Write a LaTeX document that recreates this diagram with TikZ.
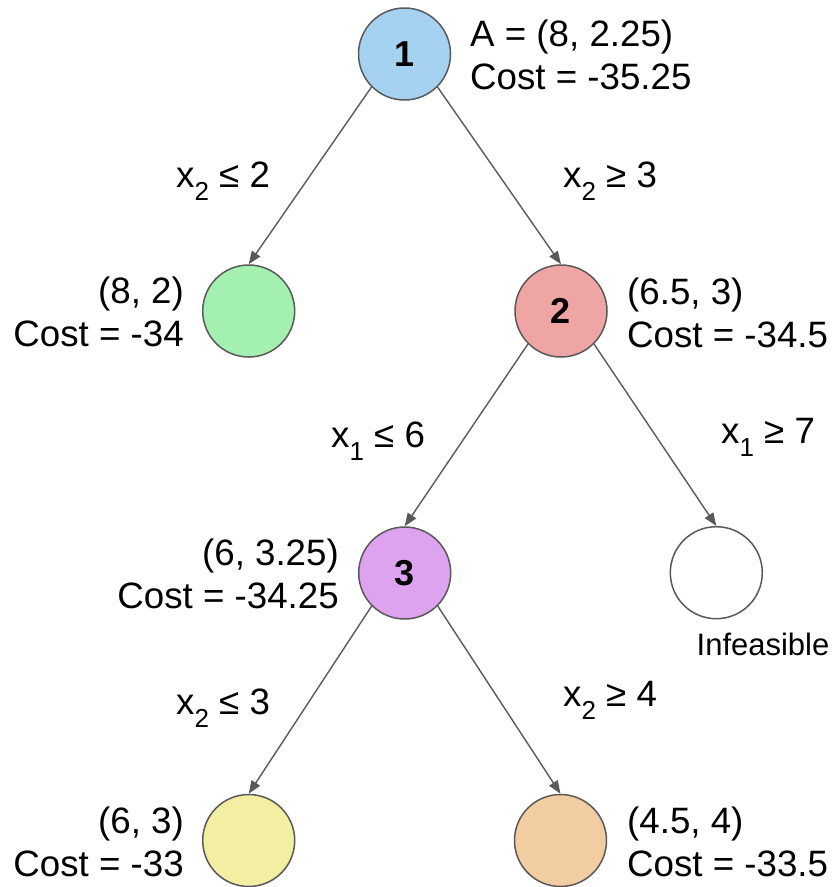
\documentclass[tikz,border=0pt]{standalone}
\usepackage{fontspec}
\setmainfont{Liberation Sans}
\usetikzlibrary{arrows.meta}
\definecolor{cblue}{HTML}{A4D2F0}
\definecolor{cgreen}{HTML}{A4F0B1}
\definecolor{cpink}{HTML}{F0A5A5}
\definecolor{cpurple}{HTML}{DDA3EF}
\definecolor{cyellow}{HTML}{F2EFA2}
\definecolor{corange}{HTML}{F2CDA2}
\definecolor{cborder}{HTML}{595959}
\definecolor{cedge}{HTML}{5A5A5A}
\newcommand\sbs[1]{\raisebox{-0.36em}{\fontsize{26}{26}\selectfont #1}}
\begin{document}
\begin{tikzpicture}[x=1pt,y=-1pt,
  treenode/.style={circle,draw=cborder,line width=1.5pt,minimum size=92pt,inner sep=0pt,font=\fontsize{36}{36}\selectfont\bfseries},
  info/.style={font=\fontsize{36.7}{42.5}\selectfont,inner sep=0pt},
  cond/.style={font=\fontsize{36.7}{42.5}\selectfont,inner sep=0pt,anchor=base west},
  branch/.style={draw=cedge,line width=1.4pt,-{Triangle[length=13pt,width=10pt]}}]
\useasboundingbox (0,0) rectangle (840,887);
\node[treenode,fill=cblue] (n1) at (404.5,54) {1};
\node[treenode,fill=cgreen] (g) at (248.7,311) {};
\node[treenode,fill=cpink] (n2) at (561,311) {2};
\node[treenode,fill=cpurple] (n3) at (404.7,573) {3};
\node[treenode,fill=white] (inf) at (716.3,572.7) {};
\node[treenode,fill=cyellow] (y) at (248.7,840.5) {};
\node[treenode,fill=corange] (o) at (560.5,840.5) {};
\node[info,anchor=west,align=left] (l1) at (470,55) {A = (8, 2.25)\\Cost = -35.25};
\node[info,anchor=east,align=right] (lg) at (184,312) {(8, 2)\\Cost = -34};
\node[info,anchor=west,align=left] (l2) at (627,313) {(6.5, 3)\\Cost = -34.5};
\node[info,anchor=east,align=right] (l3) at (339,574) {(6, 3.25)\\Cost = -34.25};
\node[info,anchor=east,align=right] (ly) at (184,842) {(6, 3)\\Cost = -33};
\node[info,anchor=west,align=left] (lo) at (627,842) {(4.5, 4)\\Cost = -33.5};
\node[font=\fontsize{31}{31}\selectfont,inner sep=0pt,anchor=base] (linf) at (763,655) {Infeasible};
\node[cond] (c1) at (176,187) {x\sbs{2} ≤ 2};
\node[cond] (c2) at (563,187) {x\sbs{2} ≥ 3};
\node[cond] (c3) at (331,447) {x\sbs{1} ≤ 6};
\node[cond] (c4) at (721,443) {x\sbs{1} ≥ 7};
\node[cond] (c5) at (176,714) {x\sbs{2} ≤ 3};
\node[cond] (c6) at (563,706) {x\sbs{2} ≥ 4};
\draw[branch] (n1.south west) -- (g.north);
\draw[branch] (n1.south east) -- (n2.north);
\draw[branch] (n2.south west) -- (n3.north);
\draw[branch] (n2.south east) -- (inf.north);
\draw[branch] (n3.south west) -- (y.north);
\draw[branch] (n3.south east) -- (o.north);
\end{tikzpicture}
\end{document}
